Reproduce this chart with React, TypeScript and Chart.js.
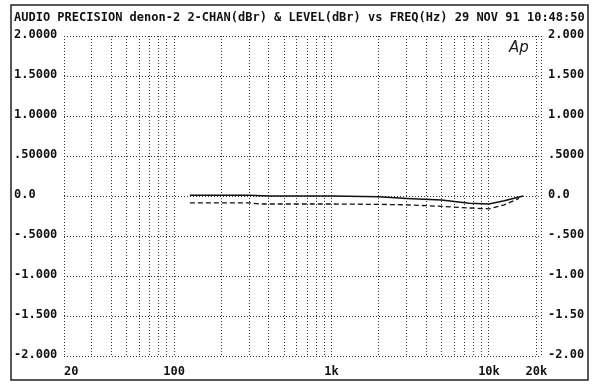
import React, { useEffect, useRef } from 'react';
import { Chart, registerables } from 'chart.js';
Chart.register(...registerables);

const TITLE = 'AUDIO PRECISION denon-2 2-CHAN(dBr) & LEVEL(dBr) vs FREQ(Hz) 29 NOV 91 10:48:50';

const chanFreq = [126, 200, 300, 400, 600, 1000, 2000, 3000, 5000, 7500, 10000, 12500, 16500];
const chanVals = [0.01, 0.01, 0.01, 0.0, 0.0, 0.0, -0.01, -0.03, -0.05, -0.09, -0.1, -0.06, 0.0];

const levelFreq = [126, 200, 300, 350, 600, 1000, 2000, 3000, 5000, 7500, 10000, 12500, 15500];
const levelVals = [-0.085, -0.085, -0.085, -0.1, -0.1, -0.1, -0.105, -0.11, -0.13, -0.15, -0.16, -0.11, -0.03];

const yTicks = [2, 1.5, 1, 0.5, 0, -0.5, -1, -1.5, -2];
const yLabelsLeft = ['2.0000', '1.5000', '1.0000', '.50000', '0.0', '-.5000', '-1.000', '-1.500', '-2.000'];
const yLabelsRight = ['2.000', '1.500', '1.000', '.5000', '0.0', '-.500', '-1.00', '-1.50', '-2.00'];

const xTickVals = [20, 100, 1000, 10000, 20000];
const xTickLabels = ['20', '100', '1k', '10k', '20k'];
const xGrid = [20, 30, 40, 50, 60, 70, 80, 90, 100, 200, 300, 400, 500, 600, 700, 800, 900, 1000,
  2000, 3000, 4000, 5000, 6000, 7000, 8000, 9000, 10000, 20000, 21400];
const X_MIN = 20;
const X_MAX = 21400;

const FONT = 'bold 12px "DejaVu Sans Mono", "Liberation Mono", monospace';

const overlay = {
  id: 'overlay',
  afterDraw(chart: any) {
    const ctx = chart.ctx;
    const xs = chart.scales.x;
    const ys = chart.scales.y;
    ctx.save();
    // frame
    ctx.strokeStyle = '#222';
    ctx.lineWidth = 1.5;
    ctx.strokeRect(11, 5, 577, 375);
    ctx.fillStyle = '#111';
    ctx.font = FONT;
    ctx.textBaseline = 'middle';
    ctx.textAlign = 'left';
    ctx.fillText(TITLE, 14, 18);
    // y labels
    yTicks.forEach((v, i) => {
      const py = ys.getPixelForValue(v) - 1;
      ctx.textAlign = 'left';
      ctx.fillText(yLabelsLeft[i], 14, py);
      ctx.fillText(yLabelsRight[i], xs.right + 7, py);
    });
    // x labels
    xTickVals.forEach((v, i) => {
      const px = xs.getPixelForValue(v);
      if (i === 0) {
        ctx.textAlign = 'left';
        ctx.fillText(xTickLabels[i], px, 372);
      } else {
        ctx.textAlign = 'center';
        ctx.fillText(xTickLabels[i], px, 372);
      }
    });
    // Ap logo
    ctx.font = 'italic 15px "DejaVu Sans", sans-serif';
    ctx.textAlign = 'left';
    ctx.fillStyle = '#222';
    ctx.fillText('Ap', 509, 48);
    ctx.restore();
  },
};

export default function App() {
  const ref = useRef<HTMLCanvasElement | null>(null);
  useEffect(() => {
    document.body.style.margin = '0';
    const canvas = ref.current!;
    const chart = new Chart(canvas, {
      type: 'line',
      data: {
        datasets: [
          {
            label: '2-CHAN',
            data: chanFreq.map((f, i) => ({ x: f, y: chanVals[i] })),
            borderColor: '#111',
            borderWidth: 1.5,
            pointRadius: 0,
            tension: 0,
            fill: false,
          },
          {
            label: 'LEVEL',
            data: levelFreq.map((f, i) => ({ x: f, y: levelVals[i] })),
            borderColor: '#111',
            borderWidth: 1.3,
            borderDash: [5, 3],
            pointRadius: 0,
            tension: 0,
            fill: false,
          },
        ],
      },
      options: {
        responsive: false,
        animation: false,
        layout: { padding: { left: 64, right: 59, top: 36, bottom: 32 } },
        plugins: { legend: { display: false }, tooltip: { enabled: false }, title: { display: false } },
        scales: {
          x: {
            type: 'logarithmic',
            min: X_MIN,
            max: X_MAX,
            afterBuildTicks: (s: any) => {
              s.ticks = xGrid.map((v) => ({ value: v }));
            },
            afterFit: (s: any) => {
              s.height = 0;
            },
            ticks: { display: false },
            grid: { color: '#333', lineWidth: 1, drawTicks: false },
            border: { display: false, dash: [1, 2] },
          },
          y: {
            type: 'linear',
            min: -2,
            max: 2,
            afterBuildTicks: (s: any) => {
              s.ticks = yTicks.map((v) => ({ value: v }));
            },
            afterFit: (s: any) => {
              s.width = 0;
            },
            ticks: { display: false },
            grid: { color: '#333', lineWidth: 1, drawTicks: false },
            border: { display: false, dash: [1, 2] },
          },
        },
      },
      plugins: [overlay],
    });
    return () => chart.destroy();
  }, []);
  return (
    <div style={{ width: 600, height: 388, background: '#fff' }}>
      <canvas ref={ref} width={600} height={388} />
    </div>
  );
}
